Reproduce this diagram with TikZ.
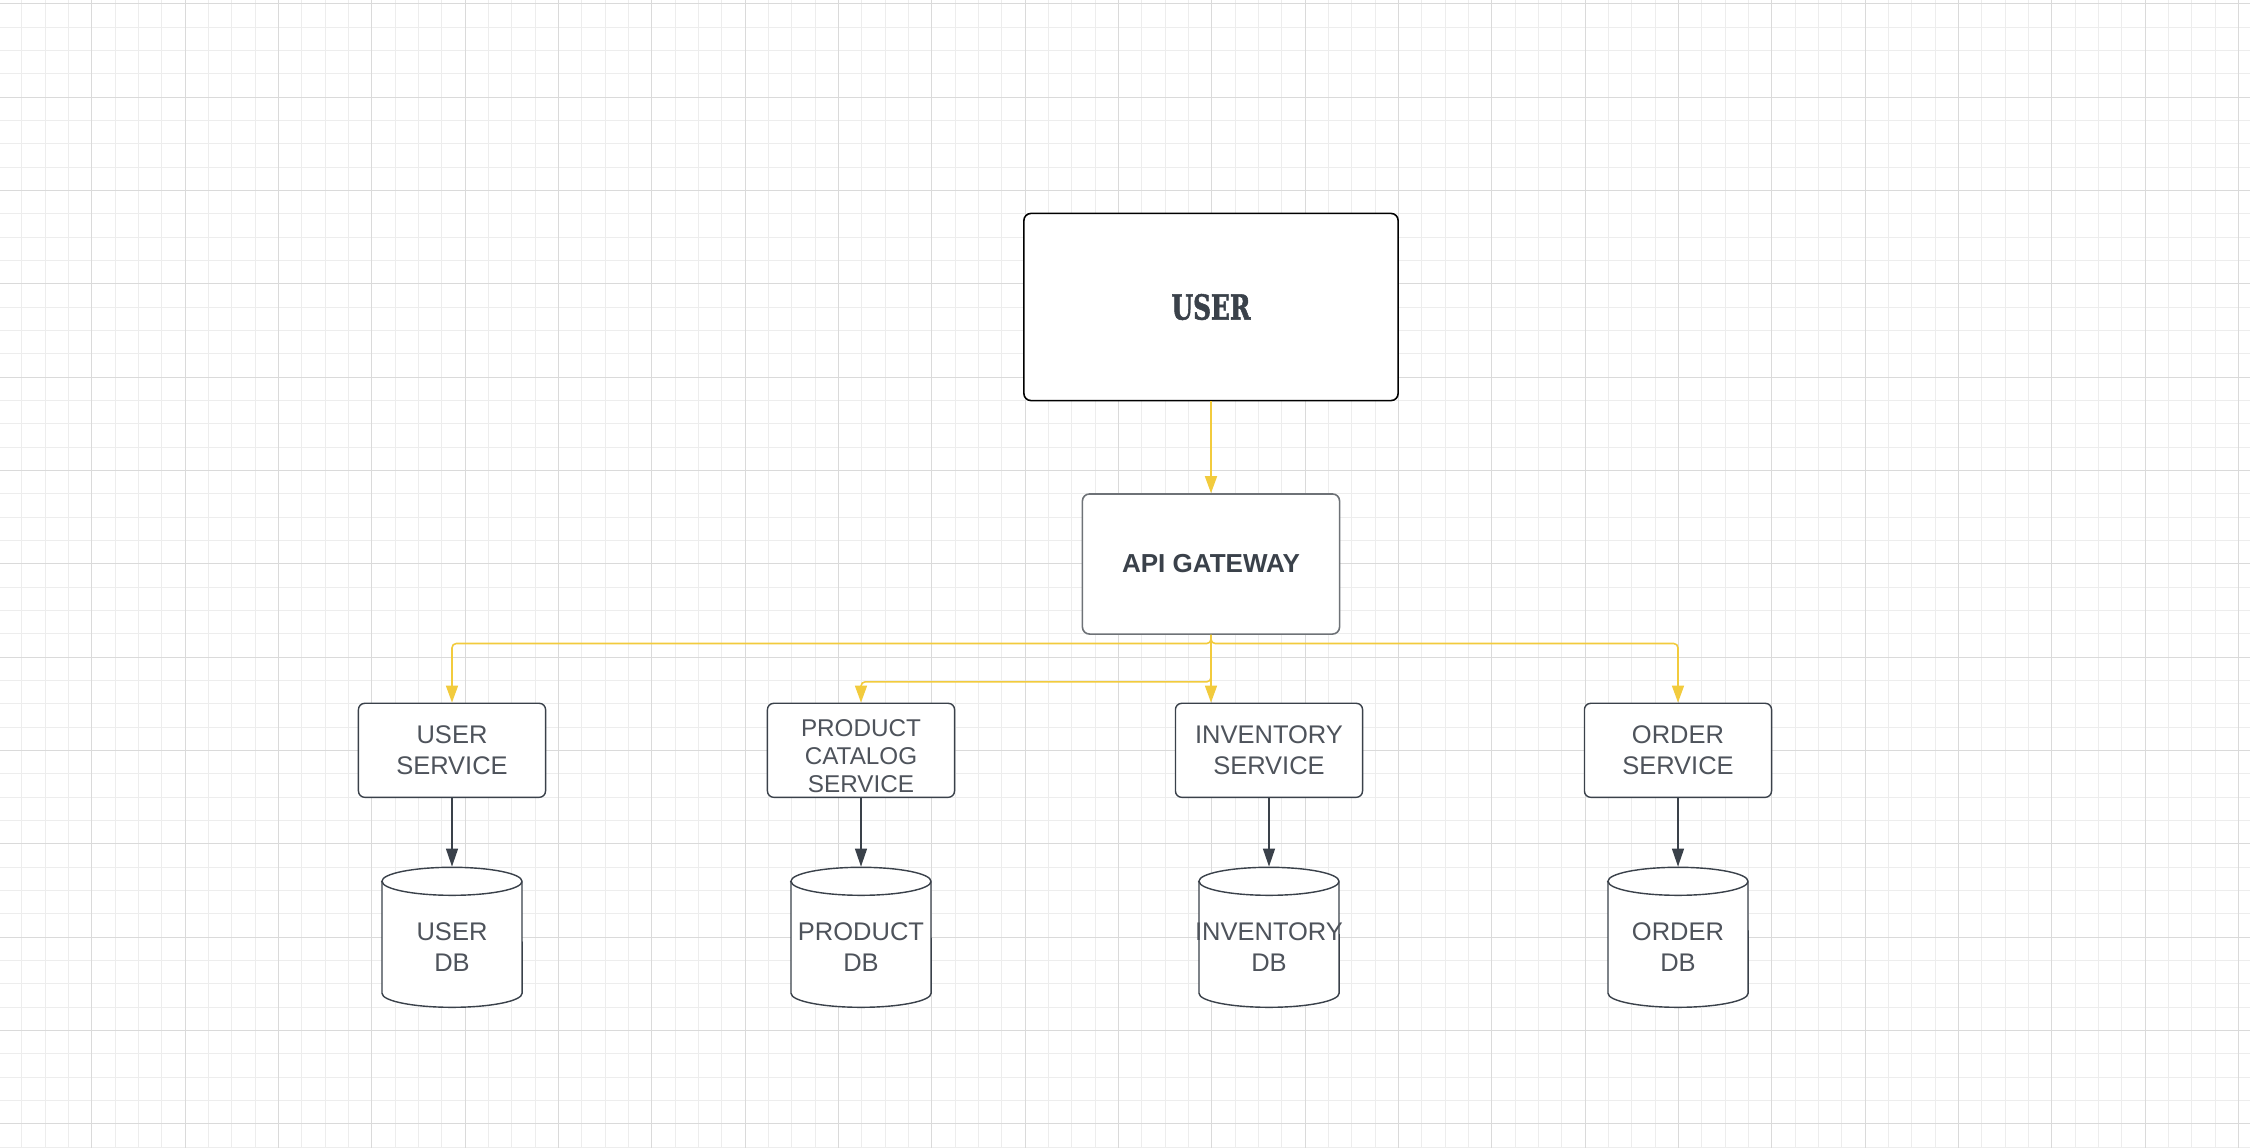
\documentclass[tikz,border=0pt]{standalone}
\usepackage{fontspec}
\setmainfont{Liberation Sans}
\newfontfamily\slabfont[FakeStretch=0.72,FakeBold=1.5]{DejaVu Serif}
\usepackage{tikz}
\usetikzlibrary{arrows.meta}
\definecolor{gridminor}{HTML}{EDEDED}
\definecolor{gridmajor}{HTML}{DADADA}
\definecolor{lucidyellow}{HTML}{F2CB3D}
\definecolor{slate}{HTML}{3A414A}
\definecolor{textgray}{HTML}{4E535B}
\definecolor{boxgray}{HTML}{6E7277}

\begin{document}
\begin{tikzpicture}[x=0.01cm,y=-0.01cm,
  gridline/.style={line width=0.2845pt},
  svcbox/.style={draw=slate,line width=0.4pt,rounded corners=1.8pt,fill=white,
    minimum width=1.87cm,minimum height=0.94cm,inner sep=0pt,align=center,
    text=textgray,font=\fontsize{7.25}{8.7}\selectfont},
  dbtext/.style={inner sep=0pt,align=center,text=textgray,
    font=\fontsize{7.25}{8.8}\selectfont},
  dbline/.style={draw=slate,line width=0.4pt,fill=white},
  yarrow/.style={draw=lucidyellow,line width=0.45pt,rounded corners=1.2pt,
    -{Triangle[length=0.17cm,width=0.12cm]}},
  darrow/.style={draw=slate,line width=0.4pt,
    -{Triangle[length=0.18cm,width=0.12cm]}}]
\useasboundingbox (0,0) rectangle (2250,1148);
\fill[white] (0,0) rectangle (2250,1148);
\foreach \i in {0,...,96} {
  \pgfmathsetmacro{\gx}{round(21.3+23.333*\i)+0.5}
  \draw[gridline,gridminor] (\gx,0) -- (\gx,1148);}
\foreach \i in {0,...,49} {
  \pgfmathsetmacro{\gy}{round(3.3+23.333*\i)+0.5}
  \draw[gridline,gridminor] (0,\gy) -- (2250,\gy);}
\foreach \i in {0,...,23} {
  \pgfmathsetmacro{\gx}{round(91.3+93.333*\i)+0.5}
  \draw[gridline,gridmajor] (\gx,0) -- (\gx,1148);}
\foreach \i in {0,...,12} {
  \pgfmathsetmacro{\gy}{round(3.3+93.333*\i)+0.5}
  \draw[gridline,gridmajor] (0,\gy) -- (2250,\gy);}

\node[draw=black,line width=0.45pt,rounded corners=2pt,fill=white,minimum width=3.74cm,
  minimum height=1.87cm,inner sep=0pt,text=slate,font=\slabfont\bfseries\fontsize{9.8}{11}\selectfont]
  (user) at (1211,307) {USER};
\node[draw=boxgray,line width=0.45pt,rounded corners=2pt,fill=white,minimum width=2.57cm,
  minimum height=1.40cm,inner sep=0pt,text=slate,font=\bfseries\fontsize{7.4}{8.8}\selectfont]
  (api) at (1211,564) {API GATEWAY};

\node[svcbox] (usvc) at (452,750.3) {USER\\SERVICE};
\node[svcbox,font=\fontsize{6.9}{7.9}\selectfont] (psvc) at (861,750.3)
  {\raisebox{-0.086cm}[\height][\depth]{\begin{tabular}{@{}c@{}}PRODUCT\\CATALOG\\SERVICE\end{tabular}}};
\node[svcbox] (isvc) at (1269,750.3) {INVENTORY\\SERVICE};
\node[svcbox] (osvc) at (1678,750.3) {ORDER\\SERVICE};

\foreach \cx in {452,861,1269,1678} {
  \filldraw[dbline] (\cx-70,881.3) -- (\cx-70,993.3)
    arc[start angle=180,end angle=360,x radius=0.7cm,y radius=0.14cm]
    -- (\cx+70,881.3)
    arc[start angle=0,end angle=180,x radius=0.7cm,y radius=0.14cm] -- cycle;
  \draw[dbline,fill=none] (\cx-70,881.3)
    arc[start angle=180,end angle=360,x radius=0.7cm,y radius=0.14cm];
}
\node[dbtext,minimum width=1.4cm,minimum height=1.4cm] (udb) at (452,937.3) {};
\node[dbtext,minimum width=1.4cm,minimum height=1.4cm] (pdb) at (861,937.3) {};
\node[dbtext,minimum width=1.4cm,minimum height=1.4cm] (idb) at (1269,937.3) {};
\node[dbtext,minimum width=1.4cm,minimum height=1.4cm] (odb) at (1678,937.3) {};
\node[dbtext] (udbtext) at (452,947) {USER\\DB};
\node[dbtext] (pdbtext) at (861,947) {PRODUCT\\DB};
\node[dbtext] (idbtext) at (1269,947) {INVENTORY\\DB};
\node[dbtext] (odbtext) at (1678,947) {ORDER\\DB};

\draw[yarrow] (user) -- (api);
\draw[yarrow] (api.south) -- ++(0,8.7) -| (usvc.north);
\draw[yarrow] (api.south) -- ++(0,8.7) -| (osvc.north);
\draw[yarrow] (api.south) -- ++(0,47) -| (psvc.north);
\draw[yarrow] (api.south) -- (api.south |- isvc.north);

\draw[darrow] (usvc) -- (udb);
\draw[darrow] (psvc) -- (pdb);
\draw[darrow] (isvc) -- (idb);
\draw[darrow] (osvc) -- (odb);
\end{tikzpicture}
\end{document}
